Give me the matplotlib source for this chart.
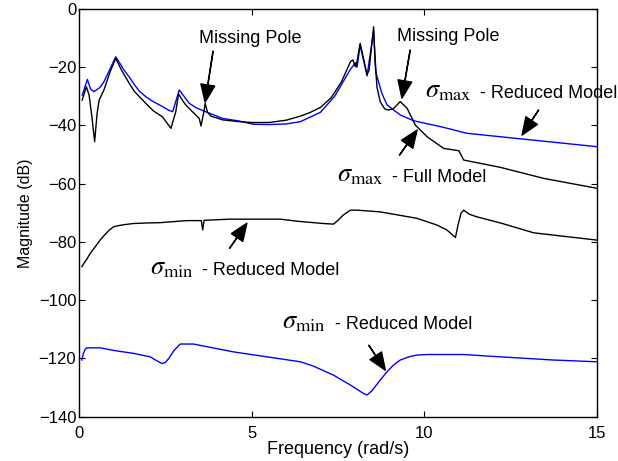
import matplotlib
matplotlib.use("Agg")
import matplotlib.pyplot as plt

plt.rcParams['font.family'] = ['Liberation Sans', 'DejaVu Sans']
plt.rcParams['mathtext.fontset'] = 'stix'

# sigma_max, full model (black, upper)
fmax_x = [0.09, 0.21, 0.29, 0.38, 0.45, 0.52, 0.58, 0.72, 0.9, 1.06, 1.25, 1.45, 1.6, 1.93, 2.15,
          2.41, 2.66, 2.8, 2.88, 3.0, 3.09, 3.3, 3.48, 3.53, 3.62, 3.65, 3.72, 3.82, 4.16, 4.64,
          5.0, 5.5, 6.0, 6.41, 6.7, 6.99, 7.3, 7.6, 7.86, 7.93, 8.0, 8.05, 8.14, 8.2, 8.34, 8.4,
          8.53, 8.57, 8.63, 8.72, 8.85, 8.95, 9.1, 9.3, 9.5, 9.74, 10.08, 10.56, 11.0, 11.14,
          12.2, 13.46, 15.0]
fmax_y = [-31.3, -26.7, -29.6, -38.0, -45.6, -36.0, -31.3, -27.8, -21.5, -17.0, -21.5, -25.5,
          -28.3, -32.4, -35.0, -37.0, -41.0, -35.3, -29.2, -31.5, -33.0, -35.5, -37.6, -40.2,
          -35.0, -32.4, -35.5, -36.8, -38.1, -38.7, -39.0, -39.0, -38.2, -36.8, -35.5, -33.8,
          -30.5, -25.0, -18.1, -17.5, -19.8, -18.0, -11.8, -15.0, -22.5, -21.0, -6.1, -18.0,
          -27.0, -31.8, -34.3, -34.7, -34.3, -31.8, -34.1, -39.9, -43.9, -47.9, -48.7, -51.9,
          -54.4, -58.2, -61.6]

# sigma_max, reduced model (blue, upper)
rmax_x = [0.09, 0.24, 0.33, 0.43, 0.6, 0.72, 0.9, 1.06, 1.2, 1.3, 1.45, 1.6, 1.75, 1.93, 2.1,
          2.41, 2.6, 2.71, 2.9, 3.19, 3.4, 3.67, 4.16, 4.64, 5.05, 5.5, 6.0, 6.41, 6.99, 7.4,
          7.86, 8.0, 8.05, 8.14, 8.34, 8.53, 8.6, 8.77, 8.92, 9.3, 9.69, 10.5, 11.23, 12.78, 15.0]
rmax_y = [-29.6, -24.2, -27.5, -28.4, -27.0, -25.0, -20.5, -16.4, -19.0, -21.0, -23.3, -26.0,
          -28.3, -30.1, -31.5, -33.5, -34.8, -35.3, -27.8, -32.4, -34.0, -35.3, -37.6, -38.5,
          -39.6, -39.7, -39.5, -38.7, -35.5, -30.0, -20.7, -18.5, -20.0, -12.5, -23.0, -7.5,
          -22.0, -29.0, -33.0, -36.4, -38.4, -40.5, -42.7, -44.6, -47.3]

# sigma_min, full model (black, middle)
fmin_x = [0.08, 0.15, 0.22, 0.32, 0.42, 0.51, 0.62, 0.75, 0.87, 1.0, 1.15, 1.3, 1.57, 2.0, 2.35,
          3.12, 3.54, 3.58, 3.62, 4.38, 5.83, 6.31, 7.08, 7.37, 7.5, 7.65, 7.86, 8.05, 8.72, 9.78,
          10.36, 10.65, 10.9, 10.98, 11.06, 11.14, 11.3, 11.52, 12.2, 13.17, 15.0]
fmin_y = [-88.5, -87.2, -86.0, -84.0, -82.4, -81.0, -79.2, -77.5, -76.0, -74.8, -74.4, -74.1,
          -73.7, -73.5, -73.4, -72.7, -72.7, -75.9, -72.6, -72.2, -72.2, -72.9, -73.7, -73.9,
          -72.6, -70.8, -69.1, -69.1, -69.7, -71.9, -74.2, -75.9, -78.5, -74.0, -70.2, -69.1,
          -70.5, -71.4, -73.5, -76.9, -79.4]

# sigma_min, reduced model (blue, lower)
rmin_x = [0.08, 0.12, 0.18, 0.24, 0.61, 1.0, 1.57, 2.06, 2.2, 2.4, 2.5, 2.6, 2.75, 2.93, 3.31,
          4.47, 5.44, 6.41, 6.79, 7.37, 7.86, 8.24, 8.34, 8.48, 8.7, 8.92, 9.1, 9.3, 9.55, 9.78,
          10.08, 11.14, 12.2, 13.75, 15.0]
rmin_y = [-120.6, -118.5, -116.8, -116.4, -116.4, -117.3, -118.3, -119.5, -120.5, -121.8, -121.4,
          -120.0, -117.3, -115.1, -115.1, -117.8, -119.5, -121.2, -122.7, -125.8, -129.2, -132.1,
          -132.6, -131.2, -127.8, -124.6, -122.4, -120.6, -119.5, -118.9, -118.7, -118.7, -119.5,
          -120.6, -121.2]

fig = plt.figure(figsize=(6.18, 4.61), dpi=100)
ax = fig.add_axes([0.128, 0.0965, 0.838, 0.884])

ax.plot(rmax_x, rmax_y, color='#0000ff', lw=1.0)
ax.plot(rmin_x, rmin_y, color='#0000ff', lw=1.0)
ax.plot(fmax_x, fmax_y, color='black', lw=1.0)
ax.plot(fmin_x, fmin_y, color='black', lw=1.0)

ax.set_xlim(0, 15)
ax.set_ylim(-140, 0)
ax.set_xticks([0, 5, 10, 15])
ax.set_yticks(range(-140, 1, 20))
ax.tick_params(direction='in', top=True, right=True, length=4, width=0.8,
               labelsize=12)
ax.tick_params(axis='x', pad=7)
ax.tick_params(axis='y', pad=2)
for s in ax.spines.values():
    s.set_linewidth(1.0)

ax.set_xlabel('Frequency (rad/s)', fontsize=13, labelpad=0)
ax.set_ylabel('Magnitude (dB)', fontsize=11.5, labelpad=4)

arrow = dict(facecolor='black', edgecolor='black', width=0.2, headwidth=10,
             headlength=12.5, shrink=0)

# Missing pole labels
ax.text(4.96, -11.8, 'Missing Pole', fontsize=13, ha='center', va='baseline')
ax.annotate('', xy=(3.65, -32.0), xytext=(3.88, -14.5), arrowprops=arrow)
ax.text(10.7, -10.9, 'Missing Pole', fontsize=13, ha='center', va='baseline')
ax.annotate('', xy=(9.35, -30.6), xytext=(9.59, -14.1), arrowprops=arrow)

# curve labels
labels = [
    (10.03, 11.62, -30.5, r'$\sigma_{\mathrm{max}}$', '- Reduced Model'),
    (7.47, 9.06, -59.3, r'$\sigma_{\mathrm{max}}$', '- Full Model'),
    (2.06, 3.56, -91.3, r'$\sigma_{\mathrm{min}}$', '- Reduced Model'),
    (5.88, 7.42, -109.8, r'$\sigma_{\mathrm{min}}$', '- Reduced Model'),
]
for xs, xt, yb, sym, txt in labels:
    ax.text(xs, yb, sym, fontsize=19, ha='left', va='baseline')
    ax.text(xt, yb, txt, fontsize=13, ha='left', va='baseline', clip_on=False)

ax.annotate('', xy=(12.83, -43.3), xytext=(13.31, -34.7), arrowprops=arrow)
ax.annotate('', xy=(9.79, -41.6), xytext=(9.28, -50.2), arrowprops=arrow)
ax.annotate('', xy=(4.86, -73.6), xytext=(4.36, -82.2), arrowprops=arrow)
ax.annotate('', xy=(8.87, -124.1), xytext=(8.39, -115.5), arrowprops=arrow)

fig.savefig('out.png', dpi=100)
